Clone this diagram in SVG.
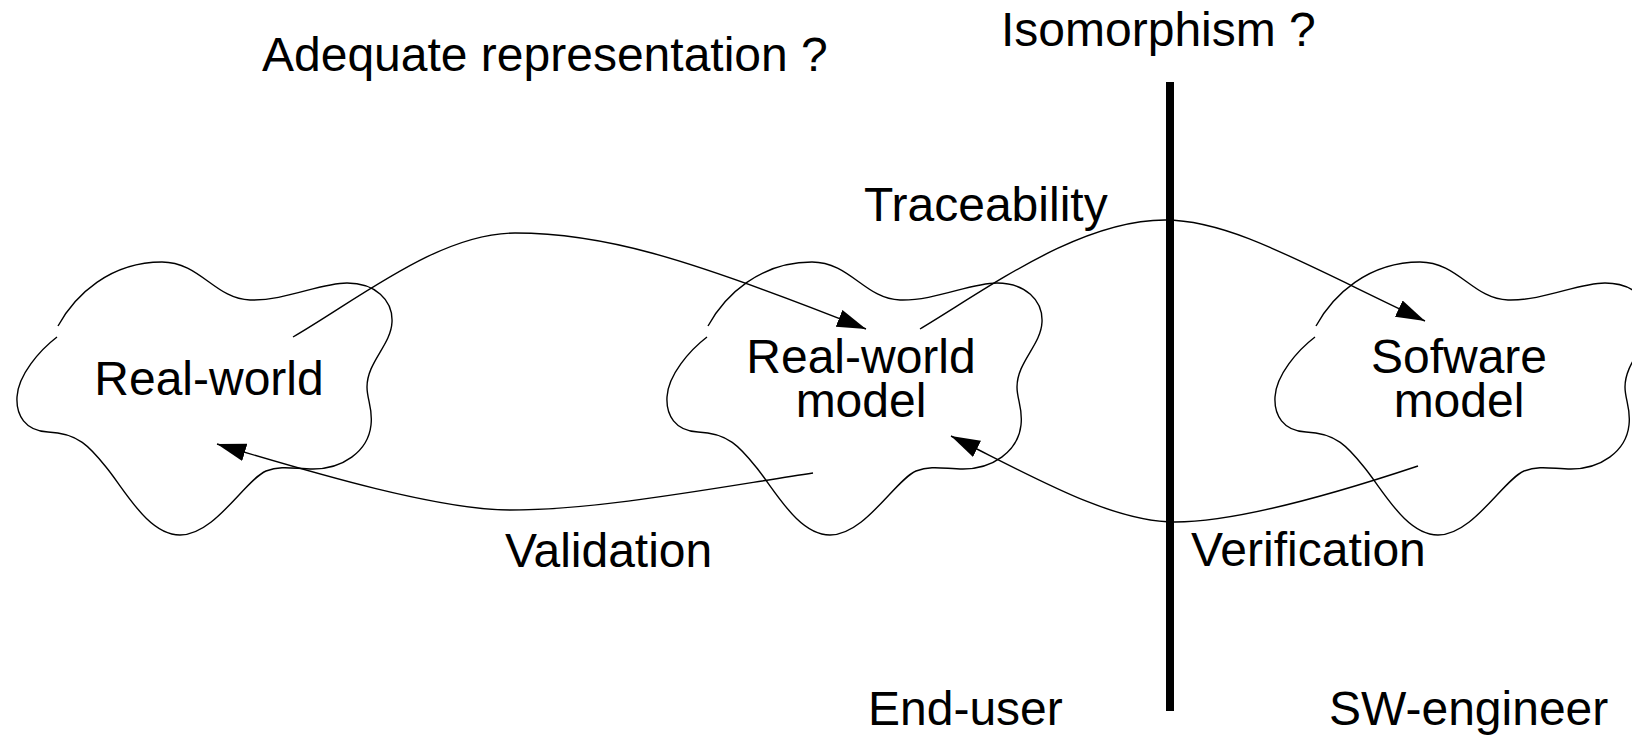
<svg xmlns="http://www.w3.org/2000/svg" xmlns:xlink="http://www.w3.org/1999/xlink" width="1632" height="736" viewBox="0 0 1632 736">
  <style>
    .cloud { fill: none; stroke: #000; stroke-width: 1.4; }
    .conn { fill: none; stroke: #000; stroke-width: 1.4; marker-end: url(#arrow); }
    .lbl { font-family: "Liberation Sans", Arial, Helvetica, sans-serif; font-size: 48px; fill: #000; }
    .mid { text-anchor: middle; }
    .divider { stroke: #000; stroke-width: 8; }
  </style>
  <defs>
    <!-- filled triangular arrowhead, tip at the end of the path -->
    <marker id="arrow" markerUnits="userSpaceOnUse" markerWidth="32" markerHeight="20" refX="29" refY="9" orient="auto">
      <path d="M0,0 L29,9 L0,18 z" fill="#000"/>
    </marker>
    <!-- open cloud outline (small gap on the upper left) -->
    <path id="cloud-shape" d="M 58,326
      C 75,295 110,262 162,262
      C 200,262 215,299 250,300
      C 285,301 320,283 347,283
      C 375,283 393,300 392,322
      C 391,345 367,362 367,387
      C 367,400 373,408 371,425
      C 368,452 342,469 313,469
      C 295,469 282,465 266,471
      C 245,480 215,535 180,535
      C 148,535 125,490 106,467
      C 90,447 78,433 48,432
      C 25,431 16,415 17,397
      C 18,375 40,350 57,337"/>
  </defs>

  <rect x="0" y="0" width="1632" height="736" fill="#fff"/>

  <!-- headings -->
  <text class="lbl" x="262" y="71">Adequate representation ?</text>
  <text class="lbl" x="1001" y="46">Isomorphism ?</text>

  <!-- boundary between end-user side and engineer side -->
  <line id="boundary" class="divider" x1="1170" y1="82" x2="1170" y2="711"/>

  <g id="real-world">
    <use xlink:href="#cloud-shape" class="cloud"/>
    <text class="lbl mid" x="209" y="395">Real-world</text>
  </g>

  <g id="real-world-model">
    <use xlink:href="#cloud-shape" class="cloud" transform="translate(650,0)"/>
    <text class="lbl mid" x="861" y="373">Real-world<tspan x="861" dy="44">model</tspan></text>
  </g>

  <g id="software-model">
    <use xlink:href="#cloud-shape" class="cloud" transform="translate(1258,0)"/>
    <text class="lbl mid" x="1459" y="373">Sofware<tspan x="1459" dy="44">model</tspan></text>
  </g>

  <g id="connectors">
    <path class="conn" d="M 293,337 C 360,298 440,233 515,233 C 600,233 680,255 866,329"/>
    <path class="conn" d="M 920,329 C 990,287 1080,220 1165,220 C 1230,220 1300,262 1425,321"/>
    <path class="conn" d="M 813,473 C 720,487 600,510 510,510 C 440,510 320,475 217,444"/>
    <path class="conn" d="M 1418,466 C 1340,492 1240,522 1175,522 C 1110,522 1030,475 951,436"/>
  </g>

  <!-- connector and side labels -->
  <text class="lbl" x="864" y="221">Traceability</text>
  <text class="lbl" x="505" y="567">Validation</text>
  <text class="lbl" x="1191" y="566">Verification</text>
  <text class="lbl" x="868" y="725">End-user</text>
  <text class="lbl" x="1329" y="725">SW-engineer</text>
</svg>
